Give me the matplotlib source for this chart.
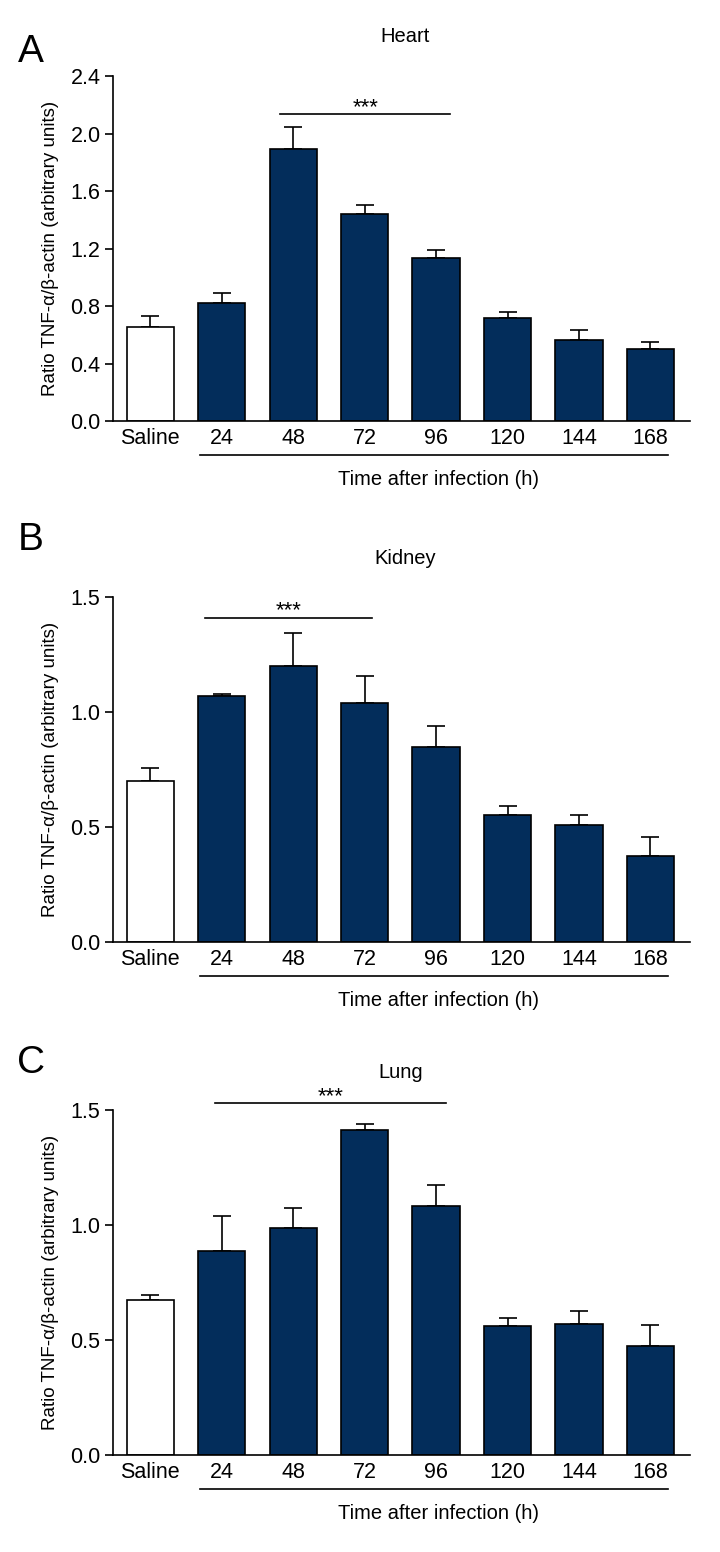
"""
TNF-alpha / beta-actin ratio in heart, kidney and lung after infection.
"""

import matplotlib
matplotlib.use("Agg")
import matplotlib.pyplot as plt
import matplotlib.transforms as mtransforms
import numpy as np

plt.rcParams["font.family"] = ["Liberation Sans", "DejaVu Sans"]

_NAVY = "#032D5B"

groups = ["Saline", "24", "48", "72", "96", "120", "144", "168"]

heart_mean = [0.656, 0.82, 1.894, 1.44, 1.134, 0.719, 0.563, 0.50]
heart_err = [0.074, 0.07, 0.151, 0.063, 0.056, 0.039, 0.07, 0.05]

kidney_mean = [0.701, 1.070, 1.201, 1.036, 0.848, 0.549, 0.506, 0.371]
kidney_err = [0.053, 0.007, 0.142, 0.119, 0.091, 0.041, 0.046, 0.086]

lung_mean = [0.674, 0.887, 0.985, 1.415, 1.082, 0.561, 0.568, 0.476]
lung_err = [0.022, 0.153, 0.090, 0.024, 0.094, 0.035, 0.057, 0.091]

panels = [
    # letter, title, means, errs, yticks, ymax, sig line (x0, x1, y)
    ("A", "Heart", heart_mean, heart_err, [0.0, 0.4, 0.8, 1.2, 1.6, 2.0, 2.4], 2.4, (1.82, 4.2, 2.134)),
    ("B", "Kidney", kidney_mean, kidney_err, [0.0, 0.5, 1.0, 1.5], 1.5, (0.77, 3.1, 1.409)),
    ("C", "Lung", lung_mean, lung_err, [0.0, 0.5, 1.0, 1.5], 1.5, (0.91, 4.14, 1.529)),
]

# axes bottoms (figure fraction)
_BOTTOMS = [0.7287, 0.3932, 0.0625]
_LEFT, _WIDTH, _HEIGHT = 0.157, 0.801, 0.2223
# title / letter heights in figure fraction, relative to axes top
_TITLE_OFF = [0.0258, 0.0249, 0.0240]
_TITLE_X = [0.5625, 0.5625, 0.556]
_LETTER_OFF = [0.0155, 0.0365, 0.0303]

fig = plt.figure(figsize=(7.2, 15.52), dpi=100)

for i, ((letter, title, means, errs, yticks, ymax, sig), bottom) in enumerate(zip(panels, _BOTTOMS)):
    ax = fig.add_axes([_LEFT, bottom, _WIDTH, _HEIGHT])
    x = np.arange(len(groups))
    colors = ["white"] + [_NAVY] * (len(groups) - 1)
    ax.bar(x, means, width=0.66, color=colors, edgecolor="black", linewidth=1.2, zorder=2)
    ax.errorbar(x, means, yerr=[np.zeros(len(errs)), errs], fmt="none",
                ecolor="black", elinewidth=1.2, capsize=6.8, capthick=1.2, zorder=1)

    ax.set_xlim(-0.52, 7.55)
    ax.set_ylim(0, ymax)
    ax.set_yticks(yticks)
    ax.set_yticklabels([f"{t:.1f}" for t in yticks], fontsize=15.5)
    ax.set_xticks(x)
    ax.set_xticklabels(groups, fontsize=15.5)
    ax.tick_params(axis="x", length=0, pad=5)
    ax.tick_params(axis="y", length=6, width=1.2, pad=3, direction="out")
    for side in ("top", "right"):
        ax.spines[side].set_visible(False)
    for side in ("left", "bottom"):
        ax.spines[side].set_linewidth(1.2)

    ax.set_ylabel("Ratio TNF-α/β-actin (arbitrary units)", fontsize=13.5, labelpad=8)

    # significance bar
    x0, x1, ys = sig
    ax.plot([x0, x1], [ys, ys], color="black", lw=1.2, clip_on=False)
    ax.text((x0 + x1) / 2, ys - ymax * 0.01, "***", ha="center", va="bottom", fontsize=16)

    # bracket under time points + axis title
    trans = mtransforms.blended_transform_factory(ax.transData, ax.transAxes)
    ax.plot([0.69, 7.24], [-0.0986, -0.0986], color="black", lw=1.2,
            transform=trans, clip_on=False)
    ax.text(4.03, -0.17, "Time after infection (h)", transform=trans,
            ha="center", va="center", fontsize=14.5)

    top = bottom + _HEIGHT
    fig.text(_TITLE_X[i], top + _TITLE_OFF[i], title, ha="center", va="center", fontsize=14.5)
    fig.text(0.043, top + _LETTER_OFF[i], letter, ha="center", va="center", fontsize=28)

fig.savefig("out.png", dpi=100)
